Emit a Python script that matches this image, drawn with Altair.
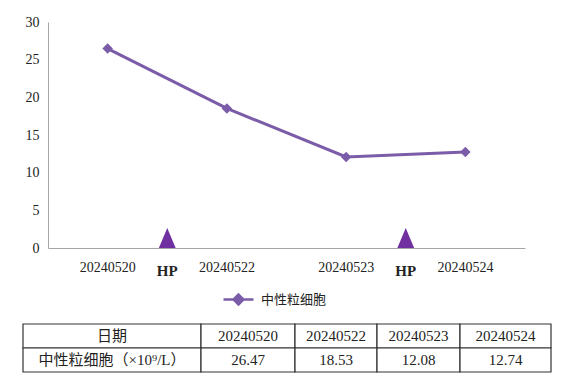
import altair as alt
import pandas as pd

# ---- data ----
dates = ["20240520", "20240522", "20240523", "20240524"]
neut = [26.47, 18.53, 12.08, 12.74]
series_name = "中性粒细胞"
hp_after = ["20240520", "20240523"]
hp_label = "HP"
y_ticks = [0, 5, 10, 15, 20, 25, 30]
table_header = ["日期"] + dates
table_row_label = "中性粒细胞（×10⁹/L）"

# ---- layout / style ----
col_widths = [178, 94, 82, 83, 91]
PURPLE = "#7B5CA8"
TRI = "#7030A0"
SERIF = "Liberation Serif"
CJK = "Noto Sans CJK SC"
MIXED = "Liberation Serif, Noto Sans CJK SC"
TXT = "#222222"

df = pd.DataFrame({"date": dates, "value": neut, "series": series_name})
hp_df = pd.DataFrame({"date": hp_after, "label": hp_label})

xscale = alt.Scale(type="band", paddingInner=0, paddingOuter=0)
xaxis = alt.Axis(title=None, labelAngle=0, ticks=False, grid=False, domainColor="#a6a6a6",
                 labelFont=SERIF, labelFontSize=14, labelColor=TXT, labelPadding=12)
yaxis = alt.Axis(title=None, values=y_ticks, tickCount=7, ticks=False, grid=False,
                 domainColor="#a6a6a6",
                 labelFont=SERIF, labelFontSize=14, labelColor=TXT, labelPadding=9,
                 labelOverlap=False, labelFlush=False)
yscale = alt.Scale(domain=[0, 30], nice=False)

line = alt.Chart(df).mark_line(strokeWidth=3).encode(
    x=alt.X("date:N", sort=dates, scale=xscale, axis=xaxis),
    y=alt.Y("value:Q", scale=yscale, axis=yaxis),
    color=alt.Color("series:N", scale=alt.Scale(domain=[series_name], range=[PURPLE]),
                    legend=alt.Legend(orient="none", legendX=174, legendY=261, title=None,
                                      symbolType="M-1,0L1,0M0,-0.33L0.33,0L0,0.33L-0.33,0Z",
                                      symbolSize=900, symbolStrokeWidth=2.5,
                                      symbolFillColor=PURPLE, symbolStrokeColor=PURPLE,
                                      labelFont=CJK, labelFontSize=13, labelColor=TXT,
                                      padding=0, labelOffset=6)),
)

points = alt.Chart(df).mark_point(shape="diamond", filled=True, size=110, opacity=1, color=PURPLE).encode(
    x=alt.X("date:N", sort=dates, scale=xscale, axis=xaxis),
    y=alt.Y("value:Q", scale=yscale, axis=yaxis),
)

tri = alt.Chart(hp_df).mark_point(shape="M0,-1L0.42,0L-0.42,0Z", size=1600, filled=True,
                                  opacity=1, color=TRI).encode(
    x=alt.X("date:N", sort=dates, scale=xscale, axis=xaxis, bandPosition=1),
    y=alt.Y(datum=0, type="quantitative", scale=yscale, axis=yaxis),
)

hp_text = alt.Chart(hp_df).mark_text(font=SERIF, fontSize=15, fontWeight="bold", color=TXT,
                                     dy=23, baseline="middle", align="center").encode(
    x=alt.X("date:N", sort=dates, scale=xscale, axis=xaxis, bandPosition=1),
    y=alt.Y(datum=0, type="quantitative", scale=yscale, axis=yaxis),
    text="label:N",
)

main = alt.layer(line, points, tri, hp_text)

# ---- table ----
rows = [table_header, [table_row_label] + [f"{v:.2f}" for v in neut]]
cells = []
for r, row in enumerate(rows):
    x0 = 0
    for c, t in enumerate(row):
        w = col_widths[c]
        cells.append({"x0": x0, "x1": x0 + w, "xc": x0 + w / 2, "y0": r, "y1": r + 1,
                      "yc": r + 0.5, "text": t})
        x0 += w
cells_df = pd.DataFrame(cells)
tx = alt.Scale(domain=[0, sum(col_widths)], range=[-25, 503], nice=False, zero=False)
ty = alt.Scale(domain=[0, 2], range=[302, 350], nice=False, zero=False)

rects = alt.Chart(cells_df).mark_rect(fill="white", stroke="#333333", strokeWidth=1.2).encode(
    x=alt.X("x0:Q", scale=tx, axis=None), x2="x1:Q",
    y=alt.Y("y0:Q", scale=ty, axis=None), y2="y1:Q",
)
texts = alt.Chart(cells_df).mark_text(font=MIXED, fontSize=15, color=TXT, baseline="middle",
                                      align="center").encode(
    x=alt.X("xc:Q", scale=tx, axis=None),
    y=alt.Y("yc:Q", scale=ty, axis=None),
    text="text:N",
)
table = alt.layer(rects, texts)

chart = alt.layer(main, table).resolve_scale(x="independent", y="independent").properties(
    width=477, height=226,
    autosize=alt.AutoSizeParams(type="none"),
    padding={"left": 48, "top": 22, "right": 52, "bottom": 130},
    background="white",
).configure_view(stroke=None)

chart.save("out.html", embed_options={"renderer": "svg", "actions": False})
